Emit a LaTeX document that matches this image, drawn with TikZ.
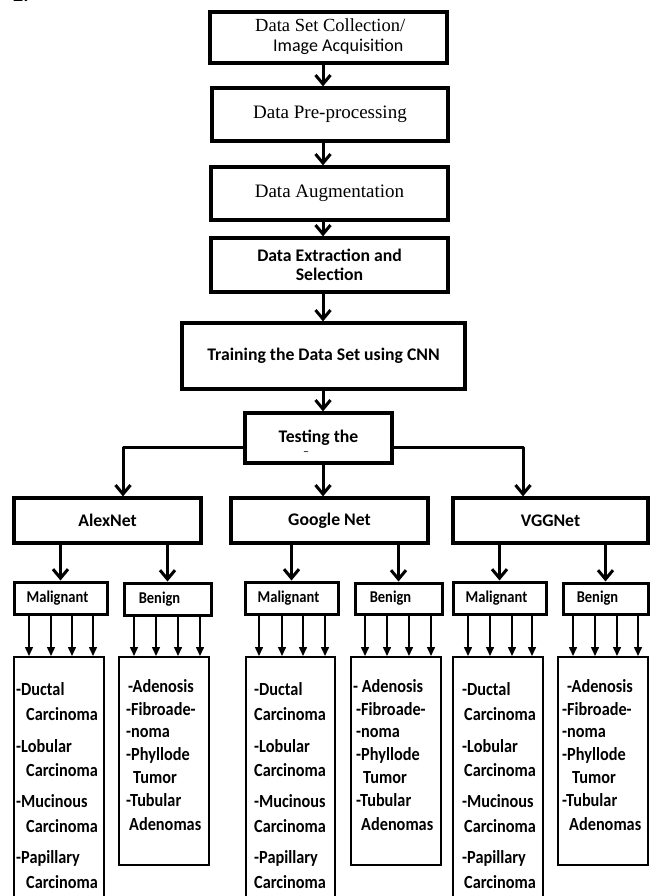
\documentclass[tikz,border=0pt]{standalone}
\usepackage{fontspec}
\setmainfont{Liberation Serif}
\newfontfamily\carlfont{Carlito}
\newfontfamily\lstfont{Carlito}[FakeStretch=0.88]
\usetikzlibrary{arrows.meta,calc}

\newcommand\MalList[3]{%
  \node[lst] (#3a) at (#1,695) {-Ductal};
  \node[lst] (#3b) at (#2,720) {Carcinoma};
  \node[lst] (#3c) at (#1,752) {-Lobular};
  \node[lst] (#3d) at (#2,776) {Carcinoma};
  \node[lst] (#3e) at (#1,807) {-Mucinous};
  \node[lst] (#3f) at (#2,832) {Carcinoma};
  \node[lst] (#3g) at (#1,863) {-Papillary};
  \node[lst] (#3h) at (#2,888) {Carcinoma};
}
\newcommand\BenList[6]{%
  \node[lst] (#6a) at (#1,692) {#2};
  \node[lst] (#6b) at (#3,715) {-Fibroade-};
  \node[lst] (#6c) at (#3,737) {-noma};
  \node[lst] (#6d) at (#3,760) {-Phyllode};
  \node[lst] (#6e) at (#4,783) {Tumor};
  \node[lst] (#6f) at (#3,806) {-Tubular};
  \node[lst] (#6g) at (#5,830) {Adenomas};
}

\begin{document}
\begin{tikzpicture}[x=1pt,y=-1pt,
  box/.style={draw, line width=3.2pt, inner sep=0pt, align=center},
  serifbox/.style={box, font=\fontsize{19}{22}\selectfont},
  sansbox/.style={box, font=\carlfont\bfseries\fontsize{17.7}{19}\selectfont},
  subbox/.style={draw, line width=3pt, inner sep=0pt,
     font=\lstfont\bfseries\fontsize{16.5}{19}\selectfont},
  listbox/.style={draw, line width=2pt, inner sep=0pt},
  lst/.style={anchor=base west, inner sep=0pt,
     font=\lstfont\bfseries\fontsize{18.5}{22}\selectfont},
  bigarr/.style={line width=3pt, line join=round,
     -{Straight Barb[length=9pt,width=15pt]}},
  smallarr/.style={line width=1.5pt, -{Triangle[length=9pt,width=8pt]}}
]
\useasboundingbox (0,0) rectangle (650,896);

\node[anchor=base west, inner sep=0pt,
  font=\carlfont\bfseries\fontsize{20}{24}\selectfont] (num) at (13,2) {2.};

% top chain
\node[box, minimum width=237pt, minimum height=51pt] (b1) at (328.5,37.5) {};
\node[anchor=base west, inner sep=0pt, font=\fontsize{18.5}{22}\selectfont]
  (b1a) at (255,32) {Data Set Collection/};
\node[anchor=base west, inner sep=0pt, font=\carlfont\fontsize{18}{22}\selectfont]
  (b1b) at (273,52) {Image Acquisition};
\node[serifbox, minimum width=236pt, minimum height=53pt] (b2) at (330,114.5) {Data Pre-processing};
\node[serifbox, minimum width=237pt, minimum height=53pt] (b3) at (329.5,193.5) {Data Augmentation};
\node[sansbox, minimum width=237pt, minimum height=54pt] (b4) at (329.5,265) {Data Extraction and\\Selection};
\node[sansbox, minimum width=283pt, minimum height=66pt] (train) at (323.5,356) {Training the Data Set using CNN};
\node[sansbox, minimum width=147pt, minimum height=50pt] (test) at (318.5,438) {Testing the};
\node[inner sep=0pt, font=\carlfont\fontsize{12}{14}\selectfont] (tdash) at (306,454) {–};

% networks
\node[sansbox, minimum width=187pt, minimum height=45pt] (alex) at (107.5,520.5) {AlexNet};
\node[sansbox, minimum width=197pt, minimum height=45pt] (goog) at (329.5,520.5) {Google Net};
\node[sansbox, minimum width=195pt, minimum height=45pt] (vgg) at (550.5,520.5) {VGGNet};

% sub boxes
\node[subbox, minimum width=93pt, minimum height=32pt] (mal1) at (60.5,598) {Malignant\hspace*{6pt}};
\node[subbox, minimum width=87pt, minimum height=32pt] (ben1) at (167.5,599) {Benign\hspace*{16pt}};
\node[subbox, minimum width=93pt, minimum height=32pt] (mal2) at (291.5,598) {Malignant\hspace*{6pt}};
\node[subbox, minimum width=87pt, minimum height=31pt] (ben2) at (398.5,598.5) {Benign\hspace*{16pt}};
\node[subbox, minimum width=93pt, minimum height=32pt] (mal3) at (499.5,598) {Malignant\hspace*{6pt}};
\node[subbox, minimum width=85pt, minimum height=31pt] (ben3) at (605.5,598.5) {Benign\hspace*{16pt}};

% list boxes
\node[listbox, minimum width=90pt, minimum height=243pt] (l1) at (59,778.5) {};
\node[listbox, minimum width=90pt, minimum height=208pt] (lb1) at (164,761) {};
\node[listbox, minimum width=89pt, minimum height=243pt] (l2) at (290.5,778.5) {};
\node[listbox, minimum width=90pt, minimum height=208pt] (lb2) at (396,761) {};
\node[listbox, minimum width=90pt, minimum height=243pt] (l3) at (498,778.5) {};
\node[listbox, minimum width=90pt, minimum height=208pt] (lb3) at (603,761) {};

\MalList{16}{26}{ma}
\MalList{254}{254}{mb}
\MalList{462}{464}{mc}
\BenList{128}{-Adenosis}{126}{133}{129}{ba}
\BenList{353}{- Adenosis}{356}{363}{361}{bb}
\BenList{567}{-Adenosis}{562}{572}{569}{bc}

% main arrows
\coordinate (ax) at (323,0);
\draw[bigarr] (b1.south -| ax) -- (b2.north -| ax);
\draw[bigarr] (b2.south -| ax) -- (b3.north -| ax);
\draw[bigarr] (b3.south -| ax) -- (b4.north -| ax);
\draw[bigarr] (b4.south -| ax) -- (train.north -| ax);
\draw[bigarr] (train.south -| ax) -- (test.north -| ax);
\draw[bigarr] (test.south -| ax) -- (goog.north -| ax);
\coordinate (brl) at (123,447);
\coordinate (brr) at (523,447);
\draw[bigarr] (test.west |- brl) -- (brl) -- (brl |- alex.north);
\draw[bigarr] (test.east |- brr) -- (brr) -- (brr |- vgg.north);

% network to class arrows
\draw[bigarr] (alex.south -| mal1.north) -- (mal1.north);
\draw[bigarr] (alex.south -| ben1.north) -- (ben1.north);
\draw[bigarr] (goog.south -| mal2.north) -- (mal2.north);
\draw[bigarr] (goog.south -| ben2.north) -- (ben2.north);
\draw[bigarr] (vgg.south -| mal3.north) -- (mal3.north);
\draw[bigarr] (vgg.south -| ben3.north) -- (ben3.north);

% small arrows
\foreach \xx in {29,51,72,93} {\coordinate (t) at (\xx,0); \draw[smallarr] (mal1.south -| t) -- (l1.north -| t);}
\foreach \xx in {134,156,178,200} {\coordinate (t) at (\xx,0); \draw[smallarr] (ben1.south -| t) -- (lb1.north -| t);}
\foreach \xx in {259,282,303,325} {\coordinate (t) at (\xx,0); \draw[smallarr] (mal2.south -| t) -- (l2.north -| t);}
\foreach \xx in {365,387,409,431} {\coordinate (t) at (\xx,0); \draw[smallarr] (ben2.south -| t) -- (lb2.north -| t);}
\foreach \xx in {468,490,512,532} {\coordinate (t) at (\xx,0); \draw[smallarr] (mal3.south -| t) -- (l3.north -| t);}
\foreach \xx in {573,595,617,638} {\coordinate (t) at (\xx,0); \draw[smallarr] (ben3.south -| t) -- (lb3.north -| t);}
\end{tikzpicture}
\end{document}
